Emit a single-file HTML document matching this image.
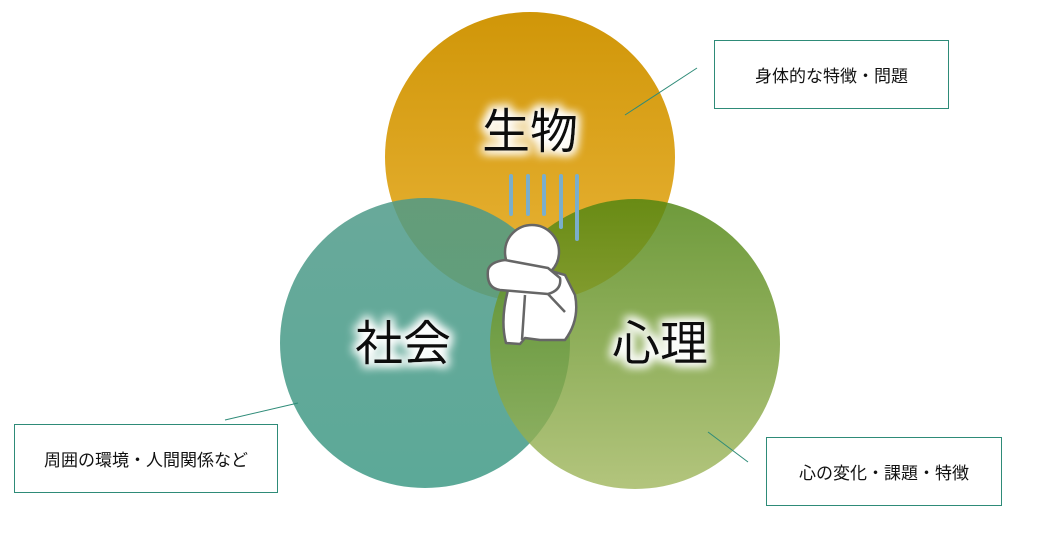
<!DOCTYPE html>
<html><head><meta charset="utf-8"><style>
body{margin:0;width:1038px;height:536px;background:#fff;overflow:hidden;font-family:"Liberation Sans","Noto Sans CJK JP",sans-serif}
.box{position:absolute;border:1px solid #2e8b78;background:#fff;font-size:17px;color:#111;display:flex;align-items:center;justify-content:center;box-sizing:border-box}
</style></head><body>
<svg width="1038" height="536" style="position:absolute;left:0;top:0">
<defs>
<linearGradient id="gt" x1="0" y1="0" x2="0" y2="1"><stop offset="0" stop-color="#d09608"/><stop offset="1" stop-color="#eab53a"/></linearGradient>
<linearGradient id="gl" x1="0" y1="0" x2="0" y2="1"><stop offset="0" stop-color="#4e9a88"/><stop offset="1" stop-color="#3f9a86"/></linearGradient>
<linearGradient id="gr" x1="0" y1="0" x2="0" y2="1"><stop offset="0" stop-color="#4e8410"/><stop offset="1" stop-color="#a2b860"/></linearGradient>
<filter id="glow" x="-20%" y="-20%" width="140%" height="140%"><feMorphology in="SourceAlpha" operator="dilate" radius="2" result="d"/><feGaussianBlur in="d" stdDeviation="5" result="b"/><feFlood flood-color="#fff"/><feComposite in2="b" operator="in" result="w"/><feMerge><feMergeNode in="w"/><feMergeNode in="w"/><feMergeNode in="SourceGraphic"/></feMerge></filter>
</defs>
<circle cx="530" cy="157" r="145" fill="url(#gt)"/>
<circle cx="425" cy="343" r="145" fill="url(#gl)" opacity="0.85"/>
<circle cx="635" cy="344" r="145" fill="url(#gr)" opacity="0.82"/>
<g stroke="#2e8b78" stroke-width="1"><line x1="625" y1="115" x2="697" y2="68"/><line x1="225" y1="420" x2="298" y2="403"/><line x1="708" y1="432" x2="748" y2="462"/></g>
<g stroke="#7aaecb" stroke-width="4" stroke-linecap="round"><line x1="511" y1="176" x2="511" y2="214"/><line x1="528" y1="176" x2="528" y2="214"/><line x1="544" y1="176" x2="544" y2="214"/><line x1="561" y1="176" x2="561" y2="227"/><line x1="577" y1="176" x2="577" y2="239"/></g>
<g fill="#fff" stroke="#666" stroke-width="2.5" stroke-linejoin="round">
<path d="M508 290 Q500 320 506 343 L520 344 L525 338 L540 340 L565 340 Q580 320 575 295 L565 275 L540 268 Z"/>
<circle cx="532" cy="252" r="27"/>
<path d="M488 270 Q486 288 500 290 L548 294 Q562 290 560 278 L548 268 L505 260 Q490 262 488 270 Z"/>
<path d="M525 295 L522 340 M548 294 L565 312" fill="none"/>
</g>
<g font-size="48" fill="#111" filter="url(#glow)" font-family="Noto Sans CJK JP">
<text x="530" y="148" text-anchor="middle">生物</text>
<text x="403" y="360" text-anchor="middle">社会</text>
<text x="660" y="360" text-anchor="middle">心理</text>
</g>
</svg>
<div class="box" style="left:714px;top:40px;width:235px;height:69px">身体的な特徴・問題</div>
<div class="box" style="left:14px;top:424px;width:264px;height:69px">周囲の環境・人間関係など</div>
<div class="box" style="left:766px;top:437px;width:236px;height:69px">心の変化・課題・特徴</div>
</body></html>
